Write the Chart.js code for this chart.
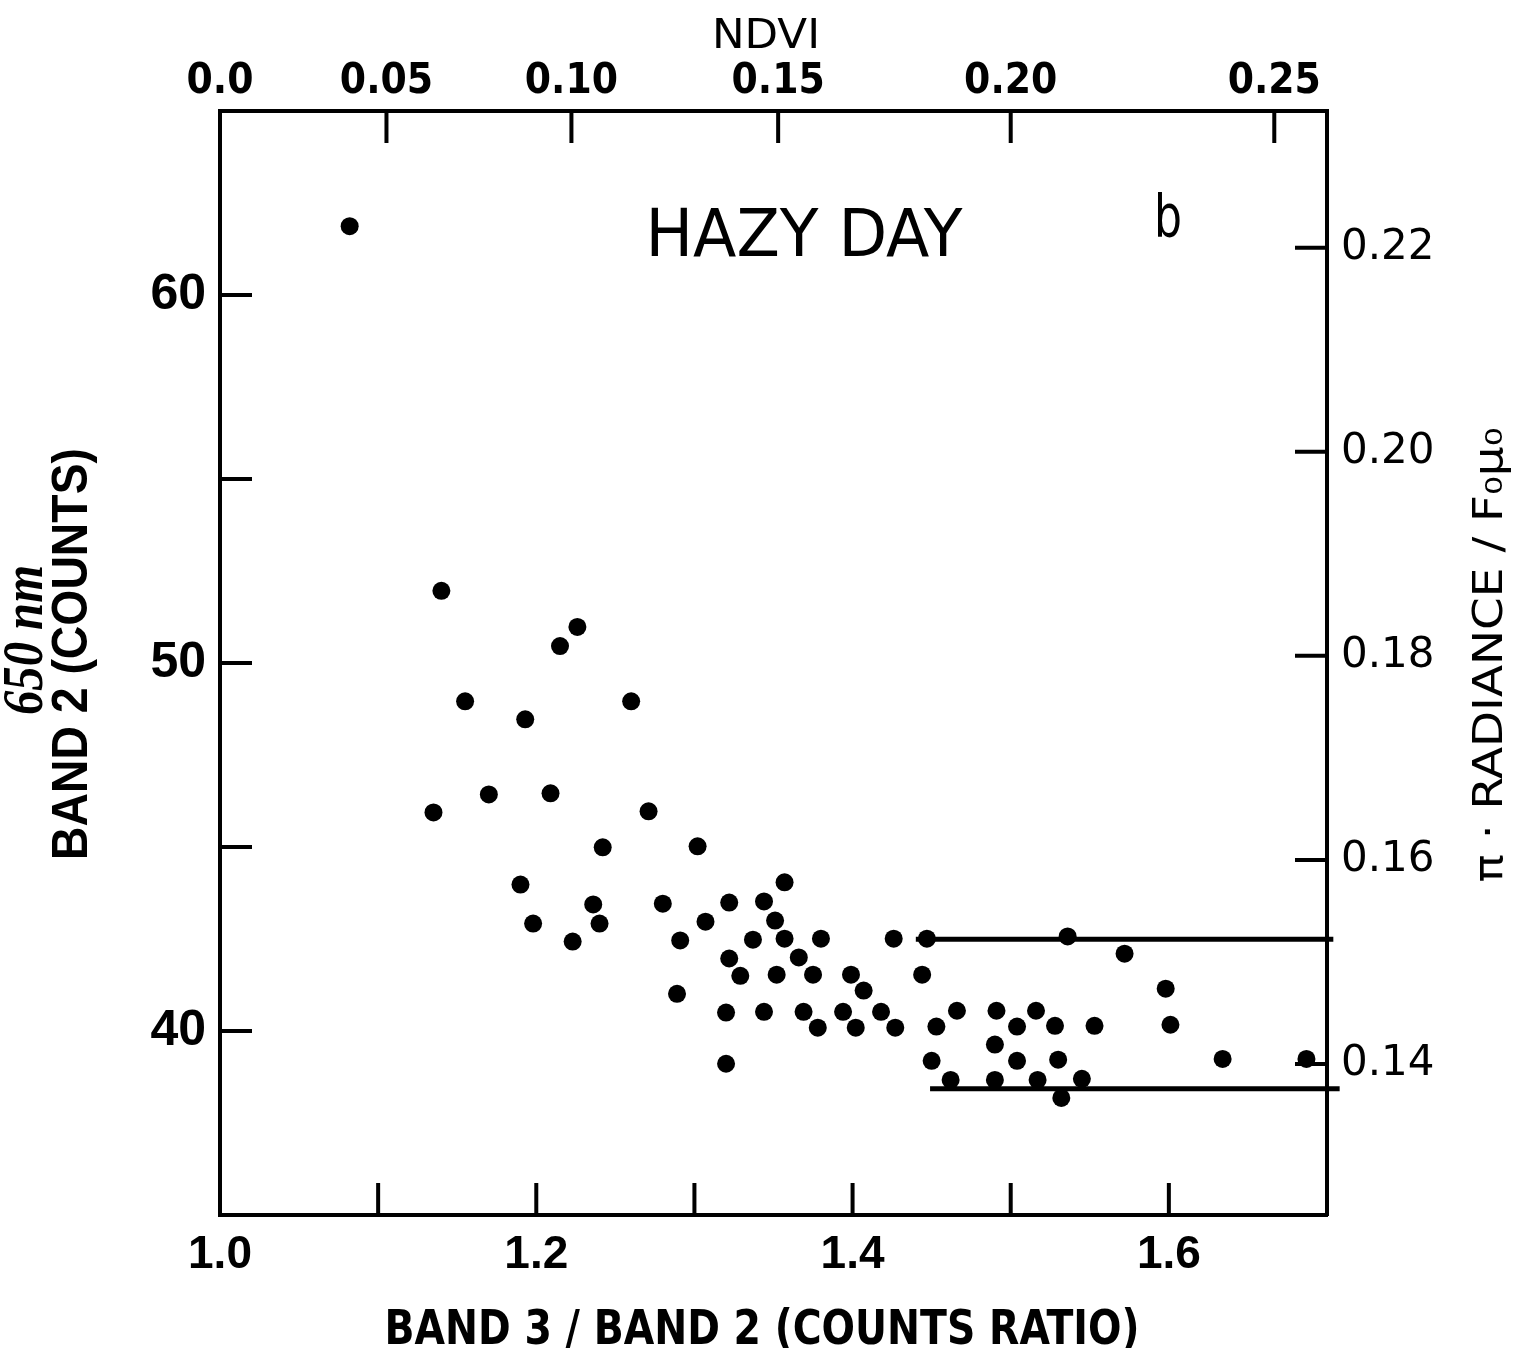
<!DOCTYPE html>
<html>
<head>
<meta charset="utf-8">
<script src="https://cdn.jsdelivr.net/npm/chart.js@4.4.0/dist/chart.umd.min.js"></script>
<style>
  html, body { margin: 0; padding: 0; background: #fff; }
  #wrap { width: 1520px; height: 1348px; position: relative; }
</style>
</head>
<body>
<div id="wrap"><canvas id="hazyChart"></canvas></div>
<script>
// Band 3 / Band 2 counts ratio (x) against band 2 counts (y)
const ratioValues = [
  1.082, 1.140, 1.226, 1.215, 1.155, 1.260, 1.193, 1.170, 1.209, 1.135,
  1.271, 1.242, 1.302, 1.190, 1.236, 1.280, 1.198, 1.240, 1.223, 1.291,
  1.307, 1.357, 1.322, 1.344, 1.351, 1.337, 1.357, 1.380, 1.426, 1.447,
  1.322, 1.366, 1.329, 1.352, 1.375, 1.399, 1.444, 1.289, 1.407, 1.320,
  1.344, 1.369, 1.394, 1.418, 1.466, 1.491, 1.516, 1.378, 1.402, 1.427,
  1.453, 1.504, 1.528, 1.553, 1.601, 1.320, 1.450, 1.536, 1.572, 1.598,
  1.490, 1.504, 1.530, 1.634, 1.687, 1.462, 1.490, 1.517, 1.545, 1.532
];
const countValues = [
  61.87, 51.96, 50.98, 50.46, 48.96, 48.96, 48.47, 46.43, 46.46, 45.94,
  45.97, 44.99, 45.02, 43.98, 43.44, 43.46, 42.92, 42.92, 42.43, 42.46,
  42.97, 44.04, 43.49, 43.52, 43.00, 42.48, 42.51, 42.51, 42.51, 42.51,
  41.97, 42.00, 41.50, 41.53, 41.53, 41.53, 41.53, 41.01, 41.10, 40.50,
  40.52, 40.52, 40.52, 40.52, 40.55, 40.55, 40.55, 40.09, 40.09, 40.09,
  40.12, 40.12, 40.14, 40.14, 40.17, 39.11, 39.19, 42.57, 42.10, 41.15,
  39.63, 39.19, 39.22, 39.24, 39.24, 38.67, 38.67, 38.67, 38.70, 38.18
];

// the two horizontal bounding lines
const upperLineX = [1.440, 1.704];
const upperLineY = [42.49, 42.49];
const lowerLineX = [1.449, 1.708];
const lowerLineY = [38.43, 38.43];

// axes
const ratioTicks = [1.0, 1.1, 1.2, 1.3, 1.4, 1.5, 1.6, 1.7];
const ratioLabels = ['1.0', '', '1.2', '', '1.4', '', '1.6', ''];
const ndviTicks = [0.0, 0.05, 0.10, 0.15, 0.20, 0.25];
const ndviLabels = ['0.0', '0.05', '0.10', '0.15', '0.20', '0.25'];
const countTicks = [40, 45, 50, 55, 60];
const countLabels = ['40', '', '50', '', '60'];
const radianceTicks = [0.14, 0.16, 0.18, 0.20, 0.22];
const radianceLabels = ['0.14', '0.16', '0.18', '0.20', '0.22'];

const INK = '#000';
const TICK_LEN = 32;

function toPoints(xs, ys) {
  return xs.map((x, i) => ({ x: x, y: ys[i] }));
}

function fixedSize(size) {
  return function (scale) {
    if (scale.isHorizontal()) scale.height = size;
    else scale.width = size;
  };
}

function fitText(ctx, text, x, y, width, font, rotate) {
  ctx.save();
  ctx.font = font;
  ctx.translate(x, y);
  if (rotate) ctx.rotate(-Math.PI / 2);
  const w = ctx.measureText(text).width;
  ctx.scale(width / w, 1);
  ctx.textAlign = 'center';
  ctx.textBaseline = 'alphabetic';
  ctx.fillStyle = INK;
  ctx.fillText(text, 0, 0);
  ctx.restore();
}

// tick marks point into the plot
const inwardTicks = {
  id: 'inwardTicks',
  afterDraw(chart) {
    const { ctx, chartArea: a, scales } = chart;
    ctx.save();
    ctx.strokeStyle = INK;
    ctx.lineWidth = 4;
    ctx.beginPath();
    scales.x.ticks.forEach(t => {
      const px = scales.x.getPixelForValue(t.value);
      if (px < a.left + 3 || px > a.right - 3) return;
      ctx.moveTo(px, a.bottom);
      ctx.lineTo(px, a.bottom - TICK_LEN);
    });
    scales.x2.ticks.forEach(t => {
      const px = scales.x2.getPixelForValue(t.value);
      if (px < a.left + 3 || px > a.right - 3) return;
      ctx.moveTo(px, a.top);
      ctx.lineTo(px, a.top + TICK_LEN);
    });
    scales.y.ticks.forEach(t => {
      const py = scales.y.getPixelForValue(t.value);
      ctx.moveTo(a.left, py);
      ctx.lineTo(a.left + TICK_LEN, py);
    });
    scales.y2.ticks.forEach(t => {
      const py = scales.y2.getPixelForValue(t.value);
      ctx.moveTo(a.right, py);
      ctx.lineTo(a.right - TICK_LEN, py);
    });
    ctx.stroke();
    ctx.restore();
  }
};

// axis titles and annotations
const chartText = {
  id: 'chartText',
  afterDraw(chart) {
    const ctx = chart.ctx;
    fitText(ctx, 'NDVI', 766, 48, 108, '41px "DejaVu Sans Condensed"', false);
    fitText(ctx, 'BAND 3 / BAND 2 (COUNTS RATIO)', 762, 1344, 755, 'bold 48px "DejaVu Sans Condensed"', false);
    fitText(ctx, 'BAND 2 (COUNTS)', 87, 654, 412, 'bold 50px "Liberation Sans"', true);
    fitText(ctx, '650 nm', 42, 640, 150, 'bold italic 58px "Liberation Serif"', true);
    fitText(ctx, 'π · RADIANCE / F₀μ₀', 1502, 655, 455, '40px "DejaVu Sans Condensed"', true);
    fitText(ctx, 'HAZY DAY', 804, 256, 317, '66px "DejaVu Sans Condensed"', false);
    fitText(ctx, 'b', 1168, 237, 28, '58px "DejaVu Sans"', false);
  }
};

const ctx = document.getElementById('hazyChart').getContext('2d');
new Chart(ctx, {
  type: 'scatter',
  data: {
    datasets: [
      {
        label: 'Hazy day',
        data: toPoints(ratioValues, countValues),
        backgroundColor: INK,
        borderWidth: 0,
        pointRadius: 9,
        pointHoverRadius: 9
      },
      {
        label: 'Upper bound',
        data: toPoints(upperLineX, upperLineY),
        showLine: true,
        borderColor: INK,
        borderWidth: 5,
        pointRadius: 0,
        clip: false
      },
      {
        label: 'Lower bound',
        data: toPoints(lowerLineX, lowerLineY),
        showLine: true,
        borderColor: INK,
        borderWidth: 5,
        pointRadius: 0,
        clip: false
      }
    ]
  },
  options: {
    responsive: true,
    maintainAspectRatio: false,
    animation: false,
    layout: { padding: 0 },
    plugins: {
      legend: { display: false },
      tooltip: { enabled: false }
    },
    scales: {
      x: {
        type: 'linear',
        position: 'bottom',
        min: 1.0,
        max: 1.7,
        afterBuildTicks: s => { s.ticks = ratioTicks.map(v => ({ value: v })); },
        afterFit: fixedSize(133),
        grid: { display: false, drawTicks: false },
        border: { display: true, color: INK, width: 4 },
        ticks: {
          autoSkip: false,
          maxRotation: 0,
          padding: 13,
          color: INK,
          font: { family: 'Liberation Sans', size: 46, weight: 'bold' },
          callback: (v, i) => ratioLabels[i]
        }
      },
      x2: {
        type: 'linear',
        position: 'top',
        min: 1.0,
        max: 1.7,
        afterBuildTicks: s => { s.ticks = ndviTicks.map(n => ({ value: (1 + n) / (1 - n) })); },
        afterFit: fixedSize(111),
        grid: { display: false, drawTicks: false },
        border: { display: true, color: INK, width: 4 },
        ticks: {
          autoSkip: false,
          maxRotation: 0,
          padding: 4,
          color: INK,
          font: { family: 'DejaVu Sans Condensed', size: 42, weight: 'bold' },
          callback: (v, i) => ndviLabels[i]
        }
      },
      y: {
        type: 'linear',
        position: 'left',
        min: 35,
        max: 65,
        afterBuildTicks: s => { s.ticks = countTicks.map(v => ({ value: v })); },
        afterFit: fixedSize(220),
        grid: { display: false, drawTicks: false },
        border: { display: true, color: INK, width: 4 },
        ticks: {
          autoSkip: false,
          padding: 14,
          color: INK,
          font: { family: 'Liberation Sans', size: 50, weight: 'bold' },
          callback: (v, i) => countLabels[i]
        }
      },
      y2: {
        type: 'linear',
        position: 'right',
        min: 0.1252,
        max: 0.2334,
        afterBuildTicks: s => { s.ticks = radianceTicks.map(v => ({ value: v })); },
        afterFit: fixedSize(193),
        grid: { display: false, drawTicks: false },
        border: { display: true, color: INK, width: 4 },
        ticks: {
          autoSkip: false,
          padding: 14,
          color: INK,
          font: { family: 'DejaVu Sans', size: 42 },
          callback: (v, i) => radianceLabels[i]
        }
      }
    }
  },
  plugins: [inwardTicks, chartText]
});

document.getElementById('hazyChart').parentElement.style.height = '1348px';
</script>
</body>
</html>
